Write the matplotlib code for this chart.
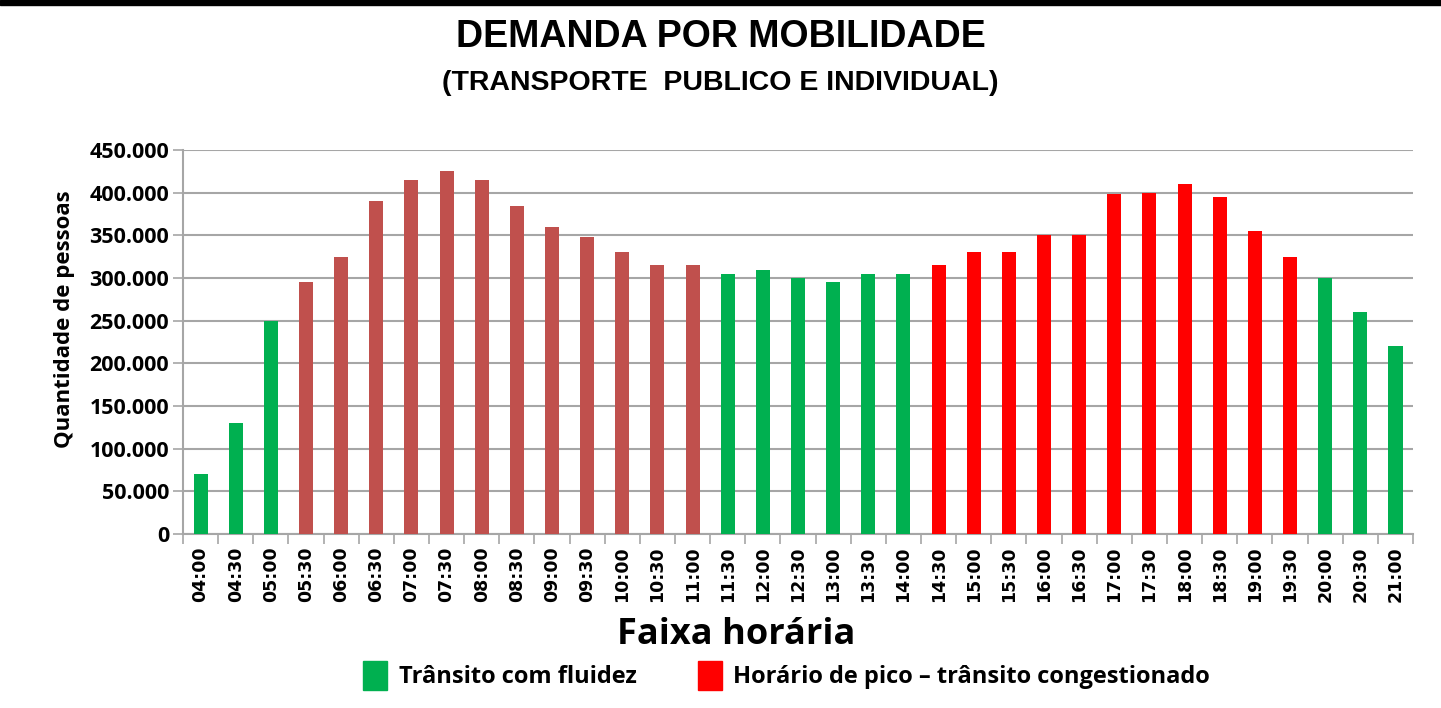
import matplotlib
matplotlib.use('Agg')
import matplotlib.pyplot as plt
from matplotlib.patches import Patch
from matplotlib.ticker import FixedLocator, FuncFormatter

# Data

horarios = ['04:00', '04:30', '05:00', '05:30', '06:00', '06:30', '07:00', '07:30',
            '08:00', '08:30', '09:00', '09:30', '10:00', '10:30', '11:00', '11:30',
            '12:00', '12:30', '13:00', '13:30', '14:00', '14:30', '15:00', '15:30',
            '16:00', '16:30', '17:00', '17:30', '18:00', '18:30', '19:00', '19:30',
            '20:00', '20:30', '21:00']
pessoas = [70000, 130000, 250000, 295000, 325000, 390000, 415000, 425000,
           415000, 385000, 360000, 348000, 330000, 315000, 315000, 305000,
           310000, 300000, 295000, 305000, 305000, 315000, 330000, 330000,
           350000, 350000, 398000, 400000, 410000, 395000, 355000, 325000,
           300000, 260000, 220000]
# f = fluidez, m = pico manha, t = pico tarde
categoria = ['f', 'f', 'f', 'm', 'm', 'm', 'm', 'm', 'm', 'm', 'm', 'm', 'm', 'm', 'm',
             'f', 'f', 'f', 'f', 'f', 'f', 't', 't', 't', 't', 't', 't', 't', 't', 't',
             't', 't', 'f', 'f', 'f']
legend_labels = ['Trânsito com fluidez', 'Horário de pico – trânsito congestionado']

verde = '#00b050'
marrom = '#c0504d'
vermelho = '#ff0000'
grid_color = '#a6a6a6'
cores = {'f': verde, 'm': marrom, 't': vermelho}

plt.rcParams['font.family'] = ['Open Sans', 'DejaVu Sans']

fig = plt.figure(figsize=(14.41, 7.08), dpi=100)
ax = fig.add_axes([0.127, 0.2458, 0.8536, 0.5422])

x = list(range(len(horarios)))
ax.bar(x, pessoas, width=0.4, color=[cores[c] for c in categoria], zorder=3)

ax.set_xlim(-0.5, len(horarios) - 0.5)
ax.set_ylim(0, 450000)
ax.yaxis.set_major_locator(FixedLocator(range(0, 450001, 50000)))
ax.yaxis.set_major_formatter(FuncFormatter(lambda v, p: '0' if v == 0 else f'{int(v):,}'.replace(',', '.')))
ax.grid(axis='y', color=grid_color, linewidth=1.5, zorder=0)

ax.set_xticks(x)
ax.set_xticklabels(horarios, rotation=90, fontsize=12.5, fontweight='bold', family=['DejaVu Sans'])
ax.set_xticks([i + 0.5 for i in range(-1, len(horarios))], minor=True)
ax.tick_params(axis='x', which='major', length=0, pad=9)
ax.tick_params(axis='x', which='minor', length=7, color=grid_color, width=1.2)
ax.tick_params(axis='y', length=7, color=grid_color, width=1.2, labelsize=15.5, pad=3)
for lbl in ax.get_yticklabels():
    lbl.set_fontweight('bold')

for s in ['top', 'right']:
    ax.spines[s].set_visible(False)
ax.spines['left'].set_color(grid_color)
ax.spines['bottom'].set_color(grid_color)
ax.spines['left'].set_linewidth(1.5)
ax.spines['bottom'].set_linewidth(1.5)

ax.set_ylabel('Quantidade de pessoas', fontsize=16, fontweight='bold')
ax.yaxis.set_label_coords(-0.088, 0.56)

# Titles and top bar
fig.add_artist(plt.Rectangle((0, 0.993), 1, 0.007, transform=fig.transFigure, color='black'))
fig.text(0.5, 0.948, 'DEMANDA POR MOBILIDADE', ha='center', va='center', fontsize=27,
         fontweight='bold', family=['Liberation Sans Narrow', 'Liberation Sans', 'DejaVu Sans'])
fig.text(0.5, 0.883, '(TRANSPORTE  PUBLICO E INDIVIDUAL)', ha='center', va='center', fontsize=20.5,
         fontweight='bold', family=['Liberation Sans Narrow', 'Liberation Sans', 'DejaVu Sans'])

fig.text(0.511, 0.103, 'Faixa horária', ha='center', va='center', fontsize=26, fontweight='bold')

handles = [Patch(color=verde), Patch(color=vermelho)]
fig.legend(handles, legend_labels, loc='center', bbox_to_anchor=(0.546, 0.046), ncol=2,
           frameon=False, prop={'size': 17, 'weight': 'bold'}, handlelength=1.0, handleheight=1.5,
           handletextpad=0.5, columnspacing=2.6)

fig.savefig('out.png', dpi=100, facecolor='white')
